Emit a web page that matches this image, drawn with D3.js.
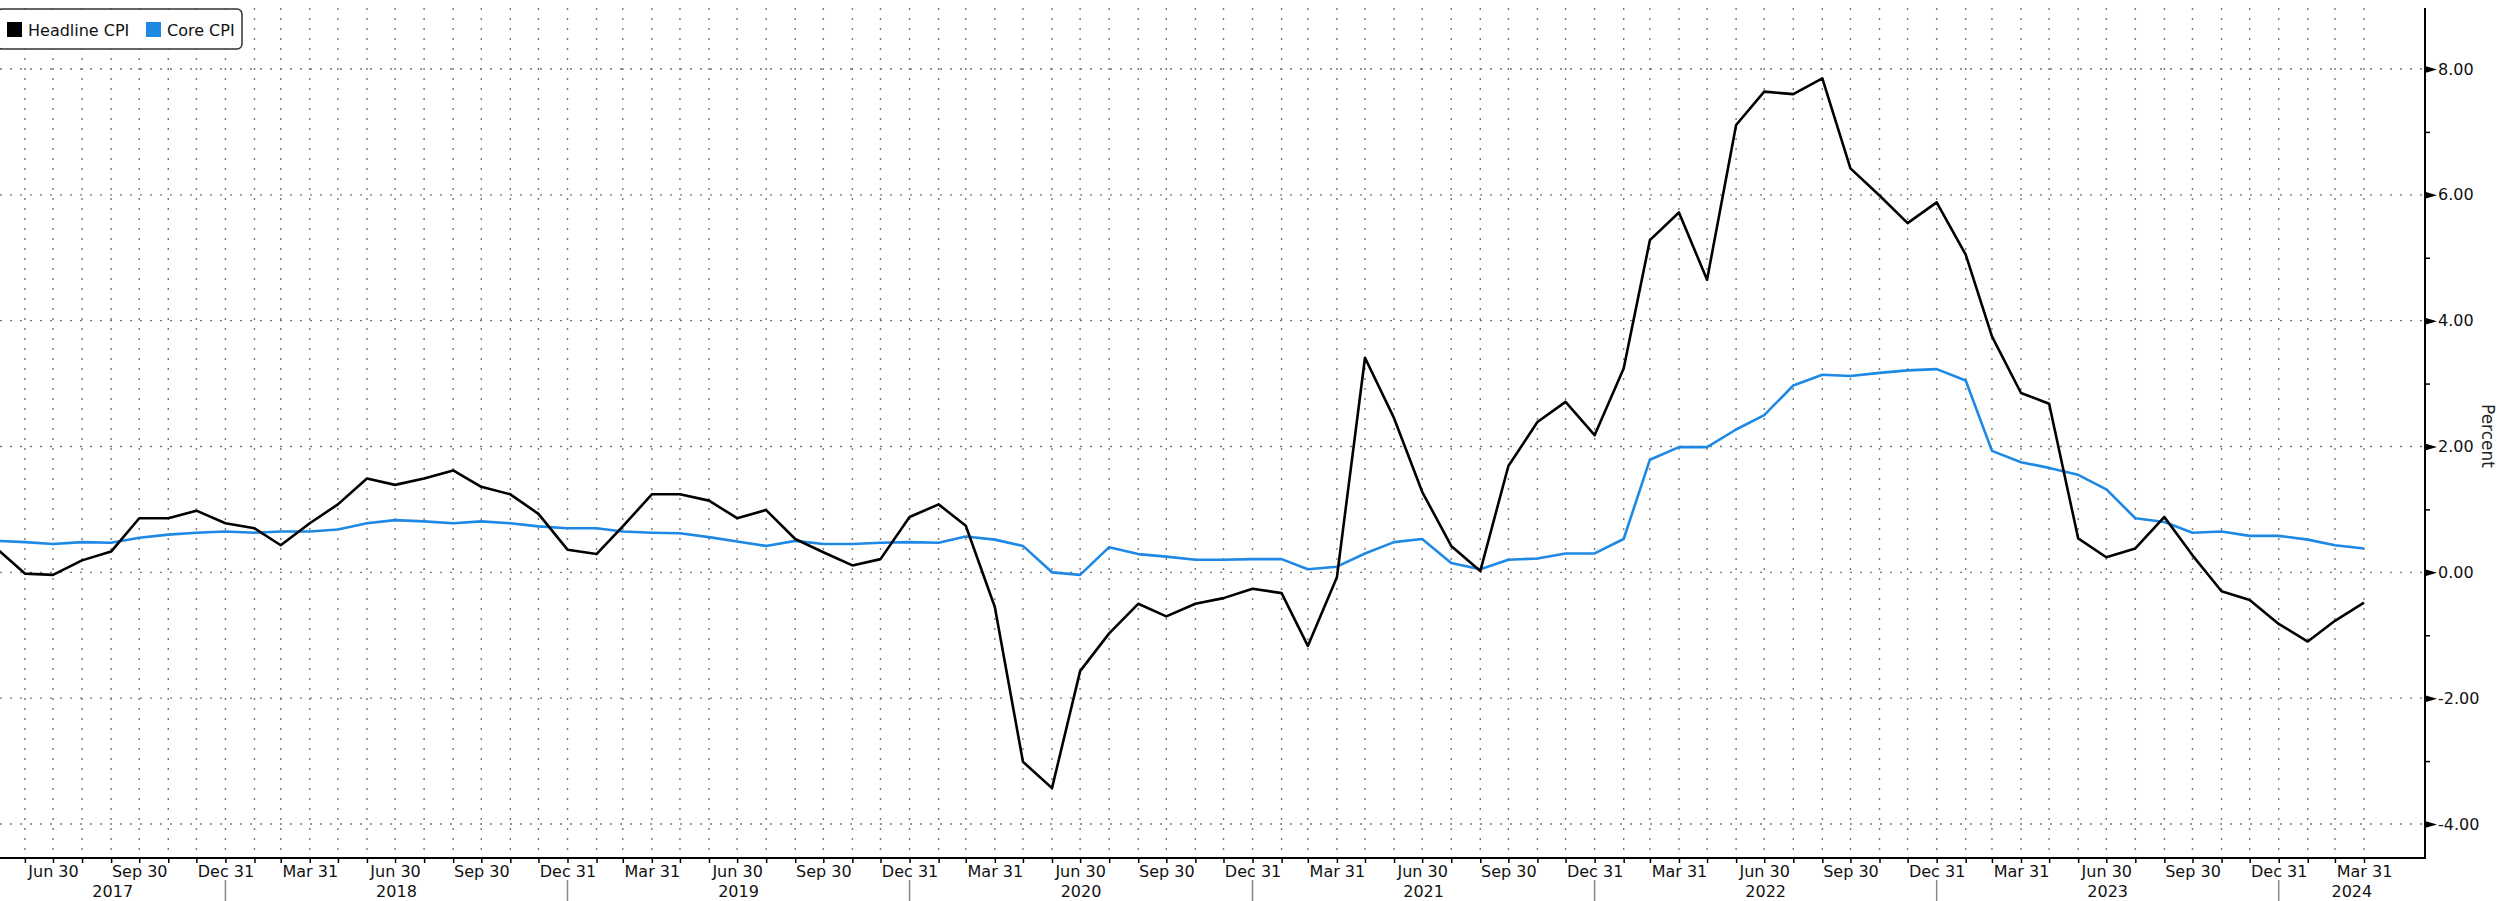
<!DOCTYPE html>
<html>
<head>
<meta charset="utf-8">
<script src="https://cdn.jsdelivr.net/npm/d3@7"></script>
<style>
  html, body { margin: 0; padding: 0; background: #fff; }
  svg { display: block; font-family: "DejaVu Sans", sans-serif; }
</style>
</head>
<body>
<svg id="chart" width="2501" height="901"></svg>
<script>
// monthly values, month-end, Apr 2017 .. Mar 2024
const firstMonth = [2017, 4]; // April 2017
const headline = [
  0.39, -0.02, -0.04, 0.19, 0.33, 0.86, 0.86, 0.98, 0.78,
  0.70, 0.43, 0.78, 1.08, 1.49, 1.39, 1.49, 1.62, 1.36, 1.24, 0.93, 0.36,
  0.29, 0.73, 1.24, 1.24, 1.14, 0.86, 0.99, 0.53, 0.32, 0.11, 0.21, 0.88,
  1.08, 0.74, -0.55, -3.01, -3.43, -1.57, -0.97, -0.50, -0.70, -0.50, -0.41, -0.26,
  -0.33, -1.17, -0.08, 3.41, 2.45, 1.28, 0.42, 0.02, 1.69, 2.39, 2.71, 2.18,
  3.24, 5.28, 5.72, 4.65, 7.11, 7.64, 7.60, 7.85, 6.42, 5.99, 5.55, 5.88,
  5.05, 3.75, 2.85, 2.68, 0.54, 0.24, 0.38, 0.88, 0.27, -0.30, -0.44, -0.82,
  -1.10, -0.77, -0.48
];
const core = [
  0.50, 0.48, 0.45, 0.48, 0.47, 0.55, 0.60, 0.63, 0.65,
  0.63, 0.65, 0.65, 0.68, 0.78, 0.83, 0.81, 0.78, 0.81, 0.78, 0.73, 0.70,
  0.70, 0.65, 0.63, 0.62, 0.56, 0.49, 0.42, 0.50, 0.45, 0.45, 0.47, 0.48,
  0.47, 0.57, 0.52, 0.42, 0.00, -0.04, 0.40, 0.29, 0.25, 0.20, 0.20, 0.21,
  0.21, 0.05, 0.09, 0.30, 0.48, 0.53, 0.15, 0.05, 0.20, 0.22, 0.30, 0.30,
  0.53, 1.79, 1.99, 1.99, 2.27, 2.50, 2.97, 3.14, 3.12, 3.17, 3.21, 3.23,
  3.05, 1.93, 1.75, 1.66, 1.55, 1.32, 0.86, 0.80, 0.63, 0.65, 0.58, 0.58,
  0.52, 0.43, 0.38
];
const seriesNames = ["Headline CPI", "Core CPI"];
const yTicks = [-4, -2, 0, 2, 4, 6, 8];
const yMinorTicks = [-3, -1, 1, 3, 5, 7];
// month number -> quarter-end label
const quarterLabels = { 3: "Mar 31", 6: "Jun 30", 9: "Sep 30", 12: "Dec 31" };
const years = [2017, 2018, 2019, 2020, 2021, 2022, 2023, 2024];
const yTitle = "Percent";

const colors = ["#000000", "#1e88e5"];
const plot = { left: 0, right: 2425, top: 8, bottom: 858 };

const svg = d3.select("#chart");

const dates = headline.map((_, i) => new Date(firstMonth[0], firstMonth[1] + i, 0));
const monthEnds = dates.slice(1);

const x = d3.scaleTime()
  .domain([new Date(2017, 5, 30), new Date(2024, 2, 31)])
  .range([53, 2364]);
x.domain([x.invert(plot.left), x.invert(plot.right)]).range([plot.left, plot.right]);

const y = d3.scaleLinear().domain([-4, 8]).range([824, 69]);

svg.append("defs").append("clipPath").attr("id", "clip")
  .append("rect")
  .attr("x", plot.left).attr("y", plot.top)
  .attr("width", plot.right - plot.left).attr("height", plot.bottom - plot.top);

// grid
const grid = svg.append("g").attr("stroke", "#777").attr("stroke-width", 1.4)
  .attr("stroke-dasharray", "2 8");
grid.selectAll(".vg").data(monthEnds).join("line")
  .attr("x1", d => x(d)).attr("x2", d => x(d))
  .attr("y1", plot.top).attr("y2", plot.bottom);
grid.selectAll(".hg").data(yTicks).join("line")
  .attr("x1", plot.left).attr("x2", plot.right)
  .attr("y1", d => y(d)).attr("y2", d => y(d));

// lines
const line = d3.line().x((d, i) => x(dates[i])).y(d => y(d));
const lines = svg.append("g").attr("clip-path", "url(#clip)");
lines.append("path").datum(core)
  .attr("fill", "none").attr("stroke", colors[1]).attr("stroke-width", 2.6)
  .attr("stroke-linejoin", "round").attr("d", line);
lines.append("path").datum(headline)
  .attr("fill", "none").attr("stroke", colors[0]).attr("stroke-width", 2.6)
  .attr("stroke-linejoin", "round").attr("d", line);

// x axis
const xAxis = svg.append("g").attr("transform", `translate(0,${plot.bottom})`)
  .call(d3.axisBottom(x).tickValues(monthEnds).tickSize(5).tickPadding(3)
    .tickFormat(d => quarterLabels[d.getMonth() + 1] || ""));
xAxis.select(".domain").remove();
xAxis.selectAll(".tick line").attr("stroke", "#000").attr("stroke-width", 1.5);
xAxis.selectAll(".tick text").attr("font-size", 16).attr("fill", "#111")
  .attr("font-family", "DejaVu Sans");

// year separators and labels
const yearEnds = years.slice(0, -1).map(yr => new Date(yr, 11, 31));
svg.append("g").selectAll("line").data(yearEnds).join("line")
  .attr("x1", d => x(d)).attr("x2", d => x(d))
  .attr("y1", 880).attr("y2", 901)
  .attr("stroke", "#888").attr("stroke-width", 1.5);
svg.append("g").selectAll("text").data(years).join("text")
  .attr("x", yr => {
    const a = Math.max(plot.left, x(new Date(yr - 1, 11, 31)));
    const b = Math.min(plot.right, x(new Date(yr, 11, 31)));
    return (a + b) / 2;
  })
  .attr("y", 897).attr("text-anchor", "middle")
  .attr("font-size", 16).attr("fill", "#111").text(d => d);

// frame
svg.append("line").attr("x1", plot.left).attr("x2", plot.right)
  .attr("y1", plot.bottom).attr("y2", plot.bottom)
  .attr("stroke", "#000").attr("stroke-width", 2);
svg.append("line").attr("x1", plot.right).attr("x2", plot.right)
  .attr("y1", plot.top).attr("y2", plot.bottom + 1)
  .attr("stroke", "#000").attr("stroke-width", 2);

// y axis on the right
const yAxis = svg.append("g").attr("transform", `translate(${plot.right},0)`)
  .call(d3.axisRight(y).tickValues(yTicks).tickSize(12).tickPadding(1)
    .tickFormat(d => d.toFixed(2)));
yAxis.select(".domain").remove();
yAxis.selectAll(".tick line").remove();
yAxis.selectAll(".tick").append("path")
  .attr("d", "M0,-3.5L12,0L0,3.5Z").attr("fill", "#000");
yAxis.selectAll(".tick text").attr("font-size", 16).attr("fill", "#111")
  .attr("font-family", "DejaVu Sans");

const yMinor = svg.append("g").attr("transform", `translate(${plot.right},0)`)
  .call(d3.axisRight(y).tickValues(yMinorTicks).tickSize(5).tickFormat(""));
yMinor.select(".domain").remove();
yMinor.selectAll(".tick line").attr("stroke", "#000").attr("stroke-width", 1.5);

svg.append("text")
  .attr("transform", "translate(2488,436) rotate(90)")
  .attr("text-anchor", "middle").attr("dominant-baseline", "central")
  .attr("font-size", 17).attr("fill", "#222").text(yTitle);

// legend
const legend = svg.append("g");
legend.append("rect")
  .attr("x", -3).attr("y", 9).attr("width", 245).attr("height", 40).attr("rx", 5)
  .attr("fill", "#fff").attr("stroke", "#333").attr("stroke-width", 1.5);
const legendX = [7, 146];
seriesNames.forEach((name, i) => {
  legend.append("rect")
    .attr("x", legendX[i]).attr("y", 22).attr("width", 15).attr("height", 15)
    .attr("fill", colors[i]);
  legend.append("text")
    .attr("x", legendX[i] + 21).attr("y", 36)
    .attr("font-size", 16).attr("fill", "#111").text(name);
});
</script>
</body>
</html>
